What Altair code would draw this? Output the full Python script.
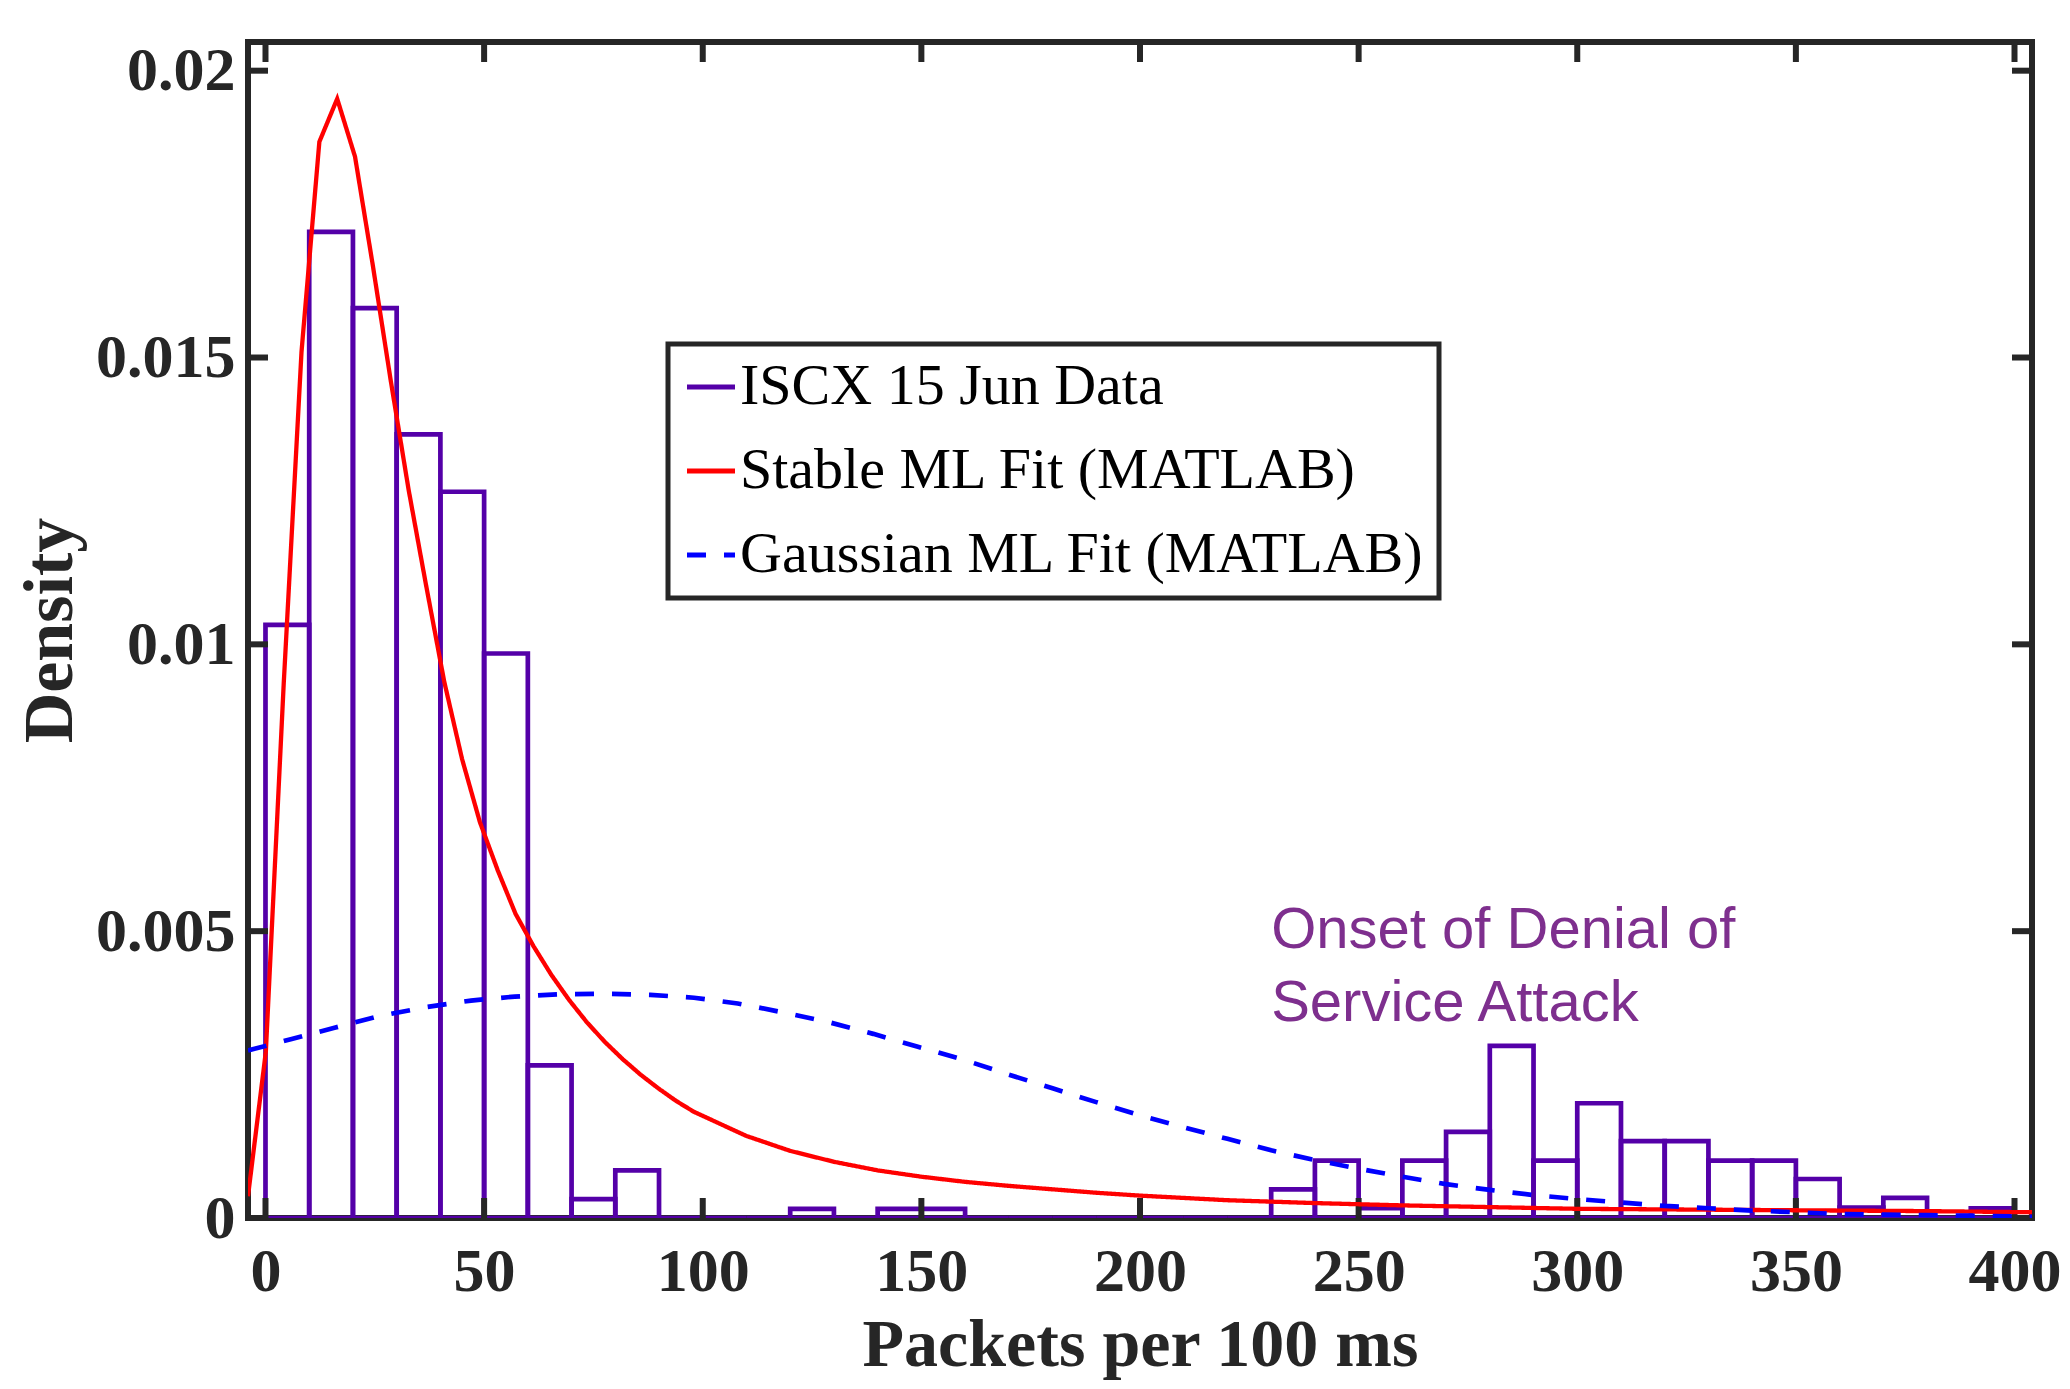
import altair as alt
import pandas as pd

# ---------------- data ----------------
series_names = ["ISCX 15 Jun Data", "Stable ML Fit (MATLAB)", "Gaussian ML Fit (MATLAB)"]
series_colors = ["#5400A8", "#FF0000", "#0000FF"]
series_dash = [[1, 0], [1, 0], [19, 18]]

bin_starts = list(range(0, 400, 10))
bin_width = 10
bin_density = [
    0.01034, 0.01719, 0.01586, 0.01366, 0.01266, 0.00984, 0.00266, 0.00033, 0.00083, 0.0,
    0.0, 0.0, 0.00016, 0.0, 0.00016, 0.00016, 0.0, 0.0, 0.0, 0.0,
    0.0, 0.0, 0.0, 0.0005, 0.001, 0.00017, 0.001, 0.0015, 0.003, 0.001,
    0.002, 0.00134, 0.00134, 0.001, 0.001, 0.00068, 0.00018, 0.00035, 0.0, 0.00017,
]

stable_x = [-4, 0.08, 4.16, 8.24, 12.32, 16.4, 20.48, 24.56, 28.64, 32.72, 36.8, 40.88,
            44.96, 49.04, 53.12, 57.2, 61.28, 65.36, 69.44, 73.52, 77.6, 81.68, 85.76,
            89.84, 93.92, 98, 110, 120, 130, 140, 150, 160, 170, 180, 190, 200, 220,
            240, 260, 280, 300, 320, 340, 360, 380, 404]
stable_y = [0.00038, 0.0029, 0.0093, 0.0151, 0.01876, 0.01951, 0.0185, 0.0166, 0.0146,
            0.0127, 0.0110, 0.00935, 0.0080, 0.0069, 0.00606, 0.0053, 0.00474, 0.00424,
            0.0038, 0.00341, 0.00307, 0.00277, 0.0025, 0.00226, 0.00204, 0.00185, 0.00143,
            0.00117, 0.00098, 0.00083, 0.00072, 0.00063, 0.00056, 0.0005, 0.00044, 0.00039,
            0.00031, 0.00026, 0.00022, 0.00019, 0.00016, 0.00015, 0.00014, 0.00013,
            0.00012, 0.0001]

gauss_x = [-4, 6, 16, 26, 37, 47, 57, 67, 78, 88, 98, 108, 118, 129, 139, 149, 160, 170,
           180, 190, 200, 210, 220, 230, 240, 250, 260, 270, 280, 290, 300, 310, 320,
           330, 340, 350, 360, 370, 380, 390, 404]
gauss_y = [0.00292, 0.00312, 0.00332, 0.00352, 0.00368, 0.00379, 0.00386, 0.0039, 0.00391,
           0.00389, 0.00384, 0.00374, 0.00359, 0.00341, 0.00321, 0.00299, 0.00275, 0.0025,
           0.00226, 0.00202, 0.00179, 0.00158, 0.00138, 0.00118, 0.00101, 0.00086, 0.00072,
           0.00059, 0.00049, 0.0004, 0.00033, 0.00027, 0.00021, 0.00017, 0.00013, 0.0001,
           0.00007, 0.00006, 0.00005, 0.00004, 0.00002]

x_ticks = [0, 50, 100, 150, 200, 250, 300, 350, 400]
y_ticks = [0, 0.005, 0.01, 0.015, 0.02]
x_domain = [-4, 404]
y_domain = [0, 0.0205]

annotation_lines = ["Onset of Denial of", "Service Attack"]
annotation_x = [230.0]
annotation_y = [0.0055]

x_title = "Packets per 100 ms"
y_title = "Density"

# ---------------- tables ----------------
hist_df = pd.DataFrame({
    "start": bin_starts,
    "end": [b + bin_width for b in bin_starts],
    "density": bin_density,
    "series": series_names[0],
})
stable_df = pd.DataFrame({"x": stable_x, "y": stable_y, "series": series_names[1]})
gauss_df = pd.DataFrame({"x": gauss_x, "y": gauss_y, "series": series_names[2]})
xt_df = pd.DataFrame({"v": x_ticks})
yt_df = pd.DataFrame({"v": y_ticks})
ann_df = pd.DataFrame({"x": annotation_x, "y": annotation_y,
                       "t": ["\n".join(annotation_lines)]})

W, H = 1784, 1176
TICK = 20
AX = "#262626"
SERIF = "Liberation Serif"

xscale = alt.Scale(domain=x_domain, nice=False, zero=False)
yscale = alt.Scale(domain=y_domain, nice=False, zero=False)
cscale = alt.Scale(domain=series_names, range=series_colors)
dscale = alt.Scale(domain=series_names, range=series_dash)

leg = alt.Legend(title=None, orient="none", legendX=420, legendY=302)

x_axis = alt.Axis(values=x_ticks, format="d", title=x_title, grid=False, ticks=False,
                  domain=False, labelFont=SERIF, labelFontWeight="bold", labelFontSize=62,
                  labelColor=AX, labelPadding=23, labelFlush=False, labelOverlap=False,
                  titleFont=SERIF, titleFontWeight="bold", titleFontSize=68,
                  titleColor=AX, titleBaseline="alphabetic", titleY=147)
y_axis = alt.Axis(values=y_ticks, format="~g", title=y_title, grid=False, ticks=False,
                  domain=False, labelFont=SERIF, labelFontWeight="bold", labelFontSize=62,
                  labelColor=AX, labelPadding=13, labelFlush=False, labelOverlap=False,
                  titleFont=SERIF, titleFontWeight="bold", titleFontSize=70,
                  titleColor=AX, titlePadding=9)

hist = alt.Chart(hist_df).mark_rect(filled=False, strokeWidth=4.7, clip=True).encode(
    x=alt.X("start:Q", scale=xscale, axis=x_axis),
    x2="end:Q",
    y=alt.Y("density:Q", scale=yscale, axis=y_axis),
    y2=alt.datum(0),
    color=alt.Color("series:N", scale=cscale, legend=leg),
)

stable = alt.Chart(stable_df).mark_line(strokeWidth=4.3, clip=True).encode(
    x=alt.X("x:Q", scale=xscale),
    y=alt.Y("y:Q", scale=yscale),
    color=alt.Color("series:N", scale=cscale, legend=leg),
    strokeDash=alt.StrokeDash("series:N", scale=dscale, legend=leg),
)

gauss = alt.Chart(gauss_df).mark_line(strokeWidth=4.7, clip=True).encode(
    x=alt.X("x:Q", scale=xscale),
    y=alt.Y("y:Q", scale=yscale),
    color=alt.Color("series:N", scale=cscale, legend=leg),
    strokeDash=alt.StrokeDash("series:N", scale=dscale, legend=leg),
)

tick_style = dict(color=AX, strokeWidth=6)
xt_bottom = alt.Chart(xt_df).mark_rule(**tick_style).encode(
    x=alt.X("v:Q", scale=xscale), y=alt.value(H), y2=alt.value(H - TICK))
xt_top = alt.Chart(xt_df).mark_rule(**tick_style).encode(
    x=alt.X("v:Q", scale=xscale), y=alt.value(0), y2=alt.value(TICK))
yt_left = alt.Chart(yt_df).mark_rule(**tick_style).encode(
    y=alt.Y("v:Q", scale=yscale), x=alt.value(0), x2=alt.value(TICK))
yt_right = alt.Chart(yt_df).mark_rule(**tick_style).encode(
    y=alt.Y("v:Q", scale=yscale), x=alt.value(W), x2=alt.value(W - TICK))

ann = alt.Chart(ann_df).mark_text(
    align="left", baseline="top", font="Liberation Sans", fontSize=58,
    color="#7E2F8E", lineBreak="\n", lineHeight=73,
).encode(x=alt.X("x:Q", scale=xscale), y=alt.Y("y:Q", scale=yscale), text="t:N")

chart = alt.layer(hist, xt_bottom, xt_top, yt_left, yt_right, stable, gauss, ann).properties(
    width=W, height=H,
    autosize=alt.AutoSizeParams(type="none"),
    padding={"left": 240, "top": 34, "right": 30, "bottom": 163},
    background="white",
).configure_view(
    stroke=AX, strokeWidth=6,
).configure_legend(
    symbolType="stroke", symbolSize=2304, symbolStrokeWidth=5,
    labelFont=SERIF, labelFontSize=58, labelColor="black", labelLimit=2000,
    labelOffset=0, rowPadding=26, padding=14,
    strokeColor=AX, strokeWidth=5, fillColor="white",
)

chart.save("out.html", embed_options={"renderer": "svg", "actions": False})
